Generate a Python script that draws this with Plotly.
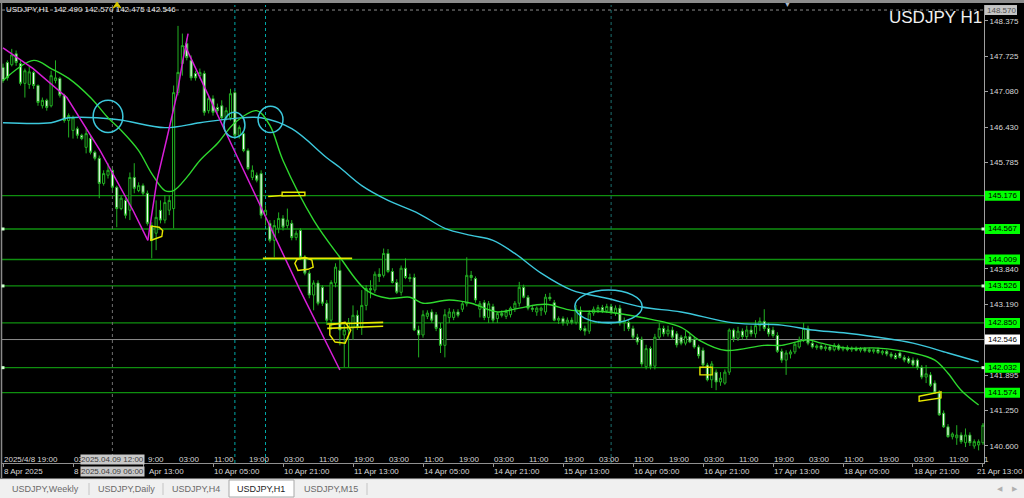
import plotly.graph_objects as go

W, H = 1024, 498
def px(x): return x / W
def py(y): return 1 - y / H

# ------------------------------------------------------------------ data
open_ = [147.52,147.61,147.57,147.77,147.59,147.23,147.21,147.43,147.19,146.82,
         146.92,146.82,147.28,147.32,147.01,146.55,146.37,146.40,146.28,146.06,
         146.22,145.97,145.86,145.40,145.55,145.64,145.33,144.94,145.09,144.91,
         145.51,145.27,145.36,145.22,144.63,144.49,144.91,144.73,144.91,144.94,
         147.06,147.59,147.96,147.65,147.41,147.37,147.41,146.73,146.95,146.79,
         146.82,146.60,146.60,147.06,146.28,146.31,146.00,145.51,145.55,145.58,
         144.82,144.67,144.36,144.58,144.76,144.63,144.67,144.41,144.54,144.05,
         143.76,143.36,143.58,143.50,143.21,142.90,143.58,143.81,142.63,142.72,
         142.77,142.99,142.77,143.17,143.48,143.45,143.74,143.72,144.12,143.79,
         143.59,143.41,143.85,143.68,143.68,142.72,142.63,142.97,143.05,143.00,
         142.75,142.44,142.95,142.95,143.05,143.10,143.20,143.72,143.66,143.10,
         143.22,142.95,143.15,142.93,143.02,142.97,143.00,143.12,143.21,143.50,
         143.32,143.12,143.05,143.08,143.05,143.32,143.22,142.90,142.93,142.85,
         142.90,142.86,143.08,142.75,142.70,143.03,143.08,143.13,143.07,143.15,
         143.03,143.12,142.85,142.86,142.75,142.59,142.55,142.05,142.38,142.06,
         142.59,142.75,142.65,142.72,142.65,142.59,142.48,142.60,142.55,142.41,
         142.35,142.08,141.81,141.95,141.77,141.75,141.95,142.72,142.57,142.70,
         142.60,142.72,142.65,142.80,142.88,142.75,142.72,142.62,142.33,142.17,
         142.28,142.32,142.41,142.54,142.75,142.48,142.40,142.43,142.38,142.41,
         142.36,142.44,142.37,142.40,142.36,142.39,142.35,142.38,142.36,142.33,
         142.36,142.30,142.33,142.28,142.26,142.30,142.22,142.20,142.17,142.17,
         142.04,141.86,141.90,141.75,141.57,141.20,140.95,140.77,140.75,140.80,
         140.66,140.80,140.60,140.62,140.66]
high = [147.59,147.65,147.86,147.83,147.65,147.50,147.55,147.46,147.21,146.97,
        146.95,147.46,147.65,147.35,147.04,146.68,146.64,146.44,146.31,146.42,
        146.28,146.00,145.91,145.64,145.77,145.67,145.36,145.18,145.13,145.60,
        145.77,145.42,145.40,145.27,144.69,145.09,145.09,145.18,145.18,147.19,
        148.28,148.14,148.05,147.74,147.46,147.50,147.46,147.01,147.01,146.86,
        146.92,146.79,147.13,147.10,146.46,146.37,146.04,145.73,145.60,145.64,
        145.00,144.73,144.73,144.87,144.82,144.94,144.73,144.54,144.58,144.09,
        143.81,143.63,143.63,143.54,143.27,143.63,143.94,144.05,142.81,142.94,
        143.17,143.08,143.45,143.54,143.63,143.79,143.85,144.21,144.20,143.85,
        143.65,143.90,144.03,143.75,143.75,142.80,143.08,143.08,143.10,143.05,
        142.85,143.10,143.12,143.10,143.10,143.25,144.05,143.80,143.70,143.25,
        143.27,143.25,143.20,143.05,143.08,143.10,143.15,143.25,143.60,143.55,
        143.36,143.18,143.15,143.15,143.38,143.40,143.27,142.97,142.97,142.95,
        142.95,143.18,143.15,142.80,143.08,143.15,143.18,143.18,143.20,143.20,
        143.17,143.18,142.95,142.90,142.80,142.65,142.60,142.45,142.42,142.65,
        142.85,142.80,142.80,142.78,142.70,142.63,142.70,142.65,142.60,142.45,
        142.40,142.12,142.15,142.00,141.95,142.00,142.75,142.75,142.78,142.75,
        142.80,142.80,142.90,142.95,143.10,142.85,142.78,142.68,142.38,142.35,
        142.36,142.50,142.60,142.85,142.80,142.52,142.46,142.46,142.44,142.45,
        142.48,142.47,142.43,142.44,142.42,142.42,142.41,142.41,142.40,142.38,
        142.40,142.36,142.36,142.32,142.30,142.33,142.26,142.24,142.22,142.20,
        142.08,142.08,141.95,141.80,141.62,141.25,141.00,140.85,140.98,140.85,
        140.92,140.85,140.72,140.72,141.02]
low = [147.24,147.28,147.54,147.55,147.19,146.97,147.13,147.13,146.82,146.77,
       146.73,146.79,147.23,146.97,146.51,146.24,146.22,146.22,146.19,145.95,
       145.93,145.82,145.13,145.36,145.49,145.27,144.60,144.91,144.76,144.73,
       145.22,145.24,145.18,144.63,144.03,144.18,144.67,144.67,144.82,144.58,
       147.01,147.37,147.65,147.28,147.28,147.32,146.64,146.68,146.64,146.68,
       146.55,146.55,146.55,146.22,146.22,145.97,145.64,145.46,145.42,144.76,
       144.63,144.32,144.05,144.49,144.54,144.58,144.36,144.36,144.00,143.72,
       143.30,143.08,143.17,143.16,142.81,142.72,143.50,142.44,142.04,142.04,
       142.54,142.72,142.63,143.08,143.30,143.40,143.60,143.68,143.76,143.57,
       143.38,143.35,143.65,143.60,142.70,142.22,142.58,142.92,142.85,142.70,
       142.30,142.22,142.85,142.90,142.95,143.05,143.15,143.62,143.22,142.95,
       142.90,142.85,142.85,142.85,142.95,142.92,142.95,143.05,143.15,143.30,
       143.08,143.05,142.98,142.98,143.00,143.25,142.88,142.83,142.80,142.80,
       142.82,142.82,142.70,142.62,142.65,142.98,143.03,143.03,143.03,143.00,
       142.98,142.80,142.70,142.70,142.55,142.45,142.05,142.00,142.00,142.00,
       142.55,142.60,142.60,142.55,142.40,142.44,142.44,142.48,142.38,142.20,
       142.05,141.78,141.66,141.62,141.70,141.72,141.90,142.50,142.52,142.55,
       142.55,142.60,142.58,142.70,142.70,142.60,142.58,142.30,142.12,141.90,
       142.20,142.28,142.38,142.50,142.44,142.38,142.36,142.35,142.34,142.33,
       142.33,142.34,142.33,142.33,142.32,142.33,142.31,142.31,142.30,142.29,
       142.28,142.26,142.24,142.20,142.18,142.20,142.13,142.10,142.05,141.99,
       141.82,141.75,141.68,141.55,141.15,140.93,140.75,140.72,140.62,140.64,
       140.58,140.60,140.55,140.52,140.62]
close = [147.28,147.33,147.75,147.61,147.23,147.46,147.44,147.19,146.88,146.92,
         146.79,147.37,147.33,147.01,146.55,146.64,146.60,146.28,146.22,146.31,
         145.97,145.86,145.40,145.58,145.64,145.33,144.94,145.13,144.82,145.51,
         145.31,145.36,145.22,144.67,144.36,144.78,144.73,145.05,145.09,147.06,
         147.43,147.92,147.70,147.33,147.33,147.43,146.70,146.95,146.70,146.73,
         146.60,146.73,147.04,146.28,146.42,146.00,145.67,145.64,145.46,144.82,
         144.91,144.36,144.63,144.76,144.60,144.73,144.41,144.49,144.05,143.76,
         143.36,143.58,143.21,143.21,142.90,143.59,143.87,142.72,142.72,142.86,
         142.99,142.77,143.17,143.48,143.45,143.74,143.70,144.12,143.79,143.59,
         143.41,143.85,143.68,143.66,142.72,142.63,143.00,143.03,142.90,142.75,
         142.44,143.00,143.05,143.05,142.99,143.20,143.72,143.68,143.27,143.20,
         142.95,143.20,142.90,143.02,142.99,143.06,143.12,143.21,143.50,143.32,
         143.12,143.10,143.12,143.12,143.32,143.29,142.90,142.93,142.85,142.90,
         142.86,143.10,142.73,142.70,143.03,143.10,143.13,143.07,143.15,143.05,
         143.12,142.85,142.88,142.75,142.59,142.50,142.10,142.38,142.06,142.59,
         142.75,142.65,142.72,142.59,142.45,142.48,142.60,142.50,142.41,142.25,
         142.08,141.81,142.10,141.77,141.84,141.95,142.72,142.57,142.70,142.60,
         142.72,142.65,142.80,142.88,142.75,142.65,142.62,142.33,142.17,142.30,
         142.32,142.46,142.54,142.75,142.48,142.41,142.43,142.38,142.41,142.36,
         142.44,142.37,142.40,142.36,142.39,142.35,142.38,142.34,142.33,142.36,
         142.31,142.33,142.28,142.24,142.20,142.22,142.17,142.13,142.08,142.04,
         141.86,141.92,141.71,141.57,141.17,140.95,140.77,140.82,140.80,140.68,
         140.80,140.66,140.68,140.68,140.98]
bars = list(range(len(close)))

# moving averages (bar index, price)
ma_fast_bar = [0,7,11,15,20,24,27,31,34,37,39,42,45,49,53,58,61,64,71,77,83,88,93,96,
               102,107,113,118,124,130,138,146,155,159,165,174,178,184,187,193,200,
               208,213,216,219,223]
ma_fast_val = [147.28,147.65,147.50,147.32,146.97,146.60,146.37,146.00,145.58,145.27,
               145.27,145.51,145.82,146.13,146.51,146.73,146.46,145.82,144.73,144.05,
               143.45,143.30,143.32,143.21,143.27,143.21,143.05,143.12,143.19,143.08,
               143.05,142.95,142.77,142.54,142.35,142.44,142.44,142.54,142.48,142.39,
               142.39,142.30,142.17,141.93,141.62,141.35]
ma_slow_bar = [0,11,15,26,37,45,53,59,66,74,77,82,88,95,101,107,112,117,123,130,138,
               146,155,167,178,185,193,208,216,223]
ma_slow_val = [146.51,146.51,146.60,146.57,146.42,146.51,146.59,146.60,146.40,145.87,
               145.69,145.36,145.09,144.85,144.58,144.45,144.36,144.12,143.76,143.45,
               143.30,143.14,143.05,142.85,142.81,142.72,142.66,142.48,142.30,142.14]

levels = [145.176, 144.567, 144.009, 143.526, 142.850, 142.032, 141.574]
anchored_levels = [144.567, 143.526, 142.032]
price_ticks = [148.375, 147.725, 147.080, 146.430, 145.785, 143.840, 143.190,
               141.895, 141.250, 140.600]
bid_price = 142.546
top_line_price = 148.570
ohlc_title = "USDJPY,H1  142.490 142.570 142.475 142.546"
chart_name = "USDJPY H1"

# time scale: bottom row every 16 bars, upper (local time) row every 8 bars
bottom_labels = ["8 Apr 2025", "8", "Apr 13:00", "10 Apr 05:00",
                 "10 Apr 21:00", "11 Apr 13:00", "14 Apr 05:00", "14 Apr 21:00",
                 "15 Apr 13:00", "16 Apr 05:00", "16 Apr 21:00", "17 Apr 13:00",
                 "18 Apr 05:00", "18 Apr 21:00", "21 Apr 13:00"]
top_labels = ["2025/4/8 19:00", "", "03", "", "9:00", "03:00", "11:00",
              "19:00", "03:00", "11:00", "19:00", "03:00", "11:00", "19:00",
              "03:00", "11:00", "19:00", "03:00", "11:00", "19:00", "03:00",
              "11:00", "19:00", "03:00", "11:00", "19:00", "03:00", "11:00", "1"]
vline_marker = ("2025.04.09 12:00", "2025.04.09 06:00", 25)
tabs = ["USDJPY,Weekly", "USDJPY,Daily", "USDJPY,H4", "USDJPY,H1", "USDJPY,M15"]

# hand-drawn objects on the chart (bar index, price)
magenta_lines = [
    [(0, 147.88), (6.9, 147.50), (14.6, 146.97), (22.2, 146.00), (29.7, 144.91), (33.1, 144.36)],
    [(33.1, 144.36), (35.2, 145.46), (37.5, 146.24), (39.8, 147.04), (41.1, 147.65), (42.3, 148.14)],
    [(41.6, 147.92), (53.7, 145.86), (67.9, 143.45), (77.0, 141.99)],
]
yellow_polys = [
    [(33.8, 144.62), (35.7, 144.60), (36.5, 144.54), (36.3, 144.43), (34.5, 144.38), (33.8, 144.36)],
    [(66.7, 143.94), (67.2, 144.01), (69.0, 144.05), (70.6, 144.00), (70.9, 143.87), (69.7, 143.83), (67.4, 143.81)],
    [(63.8, 145.24), (69.0, 145.24), (69.0, 145.18), (63.8, 145.17)],
    [(74.7, 142.81), (78.2, 142.86), (79.5, 142.72), (78.2, 142.48), (75.9, 142.50), (74.7, 142.63)],
    [(159.3, 142.04), (162.1, 142.04), (162.1, 141.90), (159.3, 141.90)],
    [(209.4, 141.51), (214.4, 141.59), (214.4, 141.48), (209.4, 141.42)],
]
yellow_lines = [
    [(59.4, 144.03), (79.8, 144.03)],
    [(60.6, 145.16), (63.8, 145.18)],
    [(74.1, 142.83), (86.9, 142.86)],
    [(74.1, 142.75), (86.9, 142.79)],
]
cyan_ellipses = [(20.6, 27.4, 146.33, 146.92), (50.5, 55.3, 146.24, 146.70),
                 (58.3, 64.0, 146.33, 146.81), (130.7, 146.1, 142.85, 143.45)]
cyan_tail = [(136, 142.86), (141, 142.86)]

# ------------------------------------------------------------------ style
CANDLE = "#22b022"
FAST = "#2ed82e"
SLOW = "#3cc8dc"
LEVEL = "#0f8f0f"
MAG = "#d81ed8"
YEL = "#e8e800"
FONT = "Liberation Sans"

fig = go.Figure()
fig.add_trace(go.Candlestick(
    x=bars, open=open_, high=high, low=low, close=close,
    increasing=dict(line=dict(color=CANDLE, width=1), fillcolor="black"),
    decreasing=dict(line=dict(color=CANDLE, width=1), fillcolor="white"),
    whiskerwidth=0, showlegend=False, hoverinfo="skip"))
fig.add_trace(go.Scatter(x=ma_slow_bar, y=ma_slow_val, mode="lines",
                         line=dict(color=SLOW, width=1.4, shape="spline"),
                         showlegend=False, hoverinfo="skip"))
fig.add_trace(go.Scatter(x=ma_fast_bar, y=ma_fast_val, mode="lines",
                         line=dict(color=FAST, width=1.4, shape="spline"),
                         showlegend=False, hoverinfo="skip"))

shapes = []
def path(pts, closed=False):
    s = "M " + " L ".join(f"{x},{y}" for x, y in pts)
    return s + (" Z" if closed else "")

# window chrome
shapes.append(dict(type="rect", xref="paper", yref="paper", x0=0, x1=1, y0=py(3), y1=1,
                   fillcolor="#8c8c8c", line_width=0, layer="below"))
shapes.append(dict(type="line", xref="paper", yref="paper", x0=px(1.5), x1=px(1.5),
                   y0=py(478), y1=py(3), line=dict(color="#8a8a8a", width=1.5)))
shapes.append(dict(type="rect", xref="paper", yref="paper", x0=0, x1=1, y0=0, y1=py(479),
                   fillcolor="#f0f0f0", line_width=0))
shapes.append(dict(type="line", xref="paper", yref="paper", x0=0, x1=1, y0=py(479), y1=py(479),
                   line=dict(color="#d4d4d4", width=1)))
shapes.append(dict(type="rect", xref="paper", yref="paper", x0=px(229), x1=px(294),
                   y0=py(497), y1=py(480), fillcolor="white", line=dict(color="#a8a8a8", width=1)))
for sx in (89, 163, 367):
    shapes.append(dict(type="line", xref="paper", yref="paper", x0=px(sx), x1=px(sx),
                       y0=py(495), y1=py(483), line=dict(color="#c4c4c4", width=1)))
# small yellow expert icon at the top
shapes.append(dict(type="path", xref="paper", yref="paper",
                   path=f"M {px(113)},{py(8)} L {px(117)},{py(2)} L {px(121)},{py(8)} "
                        f"L {px(117)},{py(6)} Z",
                   fillcolor="#d8c800", line=dict(color="#d8c800", width=1)))

# level lines
for lv in levels:
    shapes.append(dict(type="line", xref="x domain", yref="y", x0=0, x1=1, y0=lv, y1=lv,
                       line=dict(color=LEVEL, width=1.3), layer="below"))
for lv in anchored_levels:
    for ax in (0.001, 0.999):
        shapes.append(dict(type="rect", xref="x domain", yref="y", ysizemode="pixel",
                           xsizemode="pixel", xanchor=ax, yanchor=lv, x0=-1.5, x1=1.5,
                           y0=-1.5, y1=1.5, fillcolor="#d0ffd0", line_width=0))
shapes.append(dict(type="line", xref="x domain", yref="y", x0=0, x1=1, y0=bid_price, y1=bid_price,
                   line=dict(color="#8c8c8c", width=1), layer="below"))
shapes.append(dict(type="line", xref="x domain", yref="y", x0=0, x1=1, y0=top_line_price,
                   y1=top_line_price, line=dict(color="#8c8c8c", width=1, dash="dot"), layer="below"))
# vertical lines
for vb, col in ((25, "#707070"), (53, "#00a8a8"), (60, "#00a8a8"), (139, "#1c7070")):
    shapes.append(dict(type="line", xref="x", yref="y domain", x0=vb, x1=vb, y0=0, y1=1,
                       line=dict(color=col, width=1, dash="dot"), layer="below"))

# drawings
for pts in magenta_lines:
    shapes.append(dict(type="path", xref="x", yref="y", path=path(pts),
                       line=dict(color=MAG, width=1.5)))
for pts in yellow_polys:
    shapes.append(dict(type="path", xref="x", yref="y", path=path(pts, True),
                       line=dict(color=YEL, width=1.4)))
for pts in yellow_lines:
    shapes.append(dict(type="path", xref="x", yref="y", path=path(pts),
                       line=dict(color=YEL, width=1.6)))
for x0, x1, y0, y1 in cyan_ellipses:
    shapes.append(dict(type="circle", xref="x", yref="y", x0=x0, x1=x1, y0=y0, y1=y1,
                       line=dict(color=SLOW, width=1.5)))
shapes.append(dict(type="path", xref="x", yref="y", path=path(cyan_tail),
                   line=dict(color=SLOW, width=1.5)))

# right-axis boxes
def box(price, fill, x1=1020):
    shapes.append(dict(type="rect", xref="paper", yref="y", ysizemode="pixel", yanchor=price,
                       x0=px(985), x1=px(x1), y0=-5, y1=5, fillcolor=fill, line_width=0))
for lv in levels:
    box(lv, "#00ff00")
box(bid_price, "white")
box(top_line_price, "#c4c4c4", 1017)

annotations = []
def text(x, y, s, size=8, color="#e0e0e0", xanchor="left", xref="paper", yref="paper", **kw):
    annotations.append(dict(x=x, y=y, text=s, xref=xref, yref=yref, xanchor=xanchor,
                            yanchor="middle", showarrow=False,
                            font=dict(family=FONT, size=size, color=color), borderpad=0, **kw))

for lv in levels:
    text(px(1002.5), lv, f"{lv:.3f}", color="black", xanchor="center", yref="y")
text(px(1002.5), bid_price, f"{bid_price:.3f}", color="black", xanchor="center", yref="y")
text(px(1001), top_line_price, f"{top_line_price:.3f}", color="#505050", xanchor="center", yref="y")

text(px(5), py(9), ohlc_title, size=8, color="#e8e8e8")
text(px(983), py(17.5), chart_name, size=17, color="#f0f0f0", xanchor="right")
text(px(787), py(4.5), "▼", size=7, color="#a8b8c8", xanchor="center")

for k, s in enumerate(top_labels):
    if s:
        text(8 * k, py(459), s, xref="x", color="#d8d8d8", xshift=4 if k == 4 else 0)
for k, s in enumerate(bottom_labels[:-1]):
    text(16 * k, py(471.5), s, xref="x", color="#d8d8d8", xshift=5 if k == 2 else 0)
text(1.0, py(471.5), bottom_labels[-1], color="#d8d8d8", xanchor="right")
text(vline_marker[2], py(459), vline_marker[0], xref="x", color="#404040",
     xanchor="center", bgcolor="#c8c8c8")
text(vline_marker[2], py(471.5), vline_marker[1], xref="x", color="#404040",
     xanchor="center", bgcolor="#c8c8c8")

tab_centers = [45, 126, 196, 261, 331]
for s, cx in zip(tabs, tab_centers):
    text(px(cx), py(489), s, size=9, color="#222222" if s == "USDJPY,H1" else "#6a6a6a",
         xanchor="center")
text(px(1000), py(488), "◀", size=7, color="#b0b0b0", xanchor="center")
text(px(1015), py(488), "▶", size=7, color="#b0b0b0", xanchor="center")

fig.update_layout(
    width=W, height=H, margin=dict(l=0, r=0, t=0, b=0, autoexpand=False),
    paper_bgcolor="black", plot_bgcolor="black", showlegend=False,
    shapes=shapes, annotations=annotations,
    xaxis=dict(domain=[px(2), px(984)], range=[-0.23, 224.23], showgrid=False,
               zeroline=False, showticklabels=False, ticks="outside", ticklen=3,
               tickcolor="#909090", tickvals=[16 * k for k in range(15)],
               showline=True, linecolor="#909090", linewidth=1,
               rangeslider=dict(visible=False), fixedrange=True),
    yaxis=dict(domain=[py(463), py(5)], range=[140.289, 148.662], side="right",
               showgrid=False, zeroline=False, tickvals=price_ticks, tickformat=".3f",
               ticks="outside", ticklen=3, tickcolor="#a0a0a0", showline=True,
               linecolor="#a0a0a0", linewidth=1, fixedrange=True,
               tickfont=dict(family=FONT, size=8, color="#d8d8d8"), automargin=False),
)
fig.write_html("out.html", config={"displayModeBar": False},
               post_script="document.body.style.margin='0';document.body.style.overflow='hidden';")
